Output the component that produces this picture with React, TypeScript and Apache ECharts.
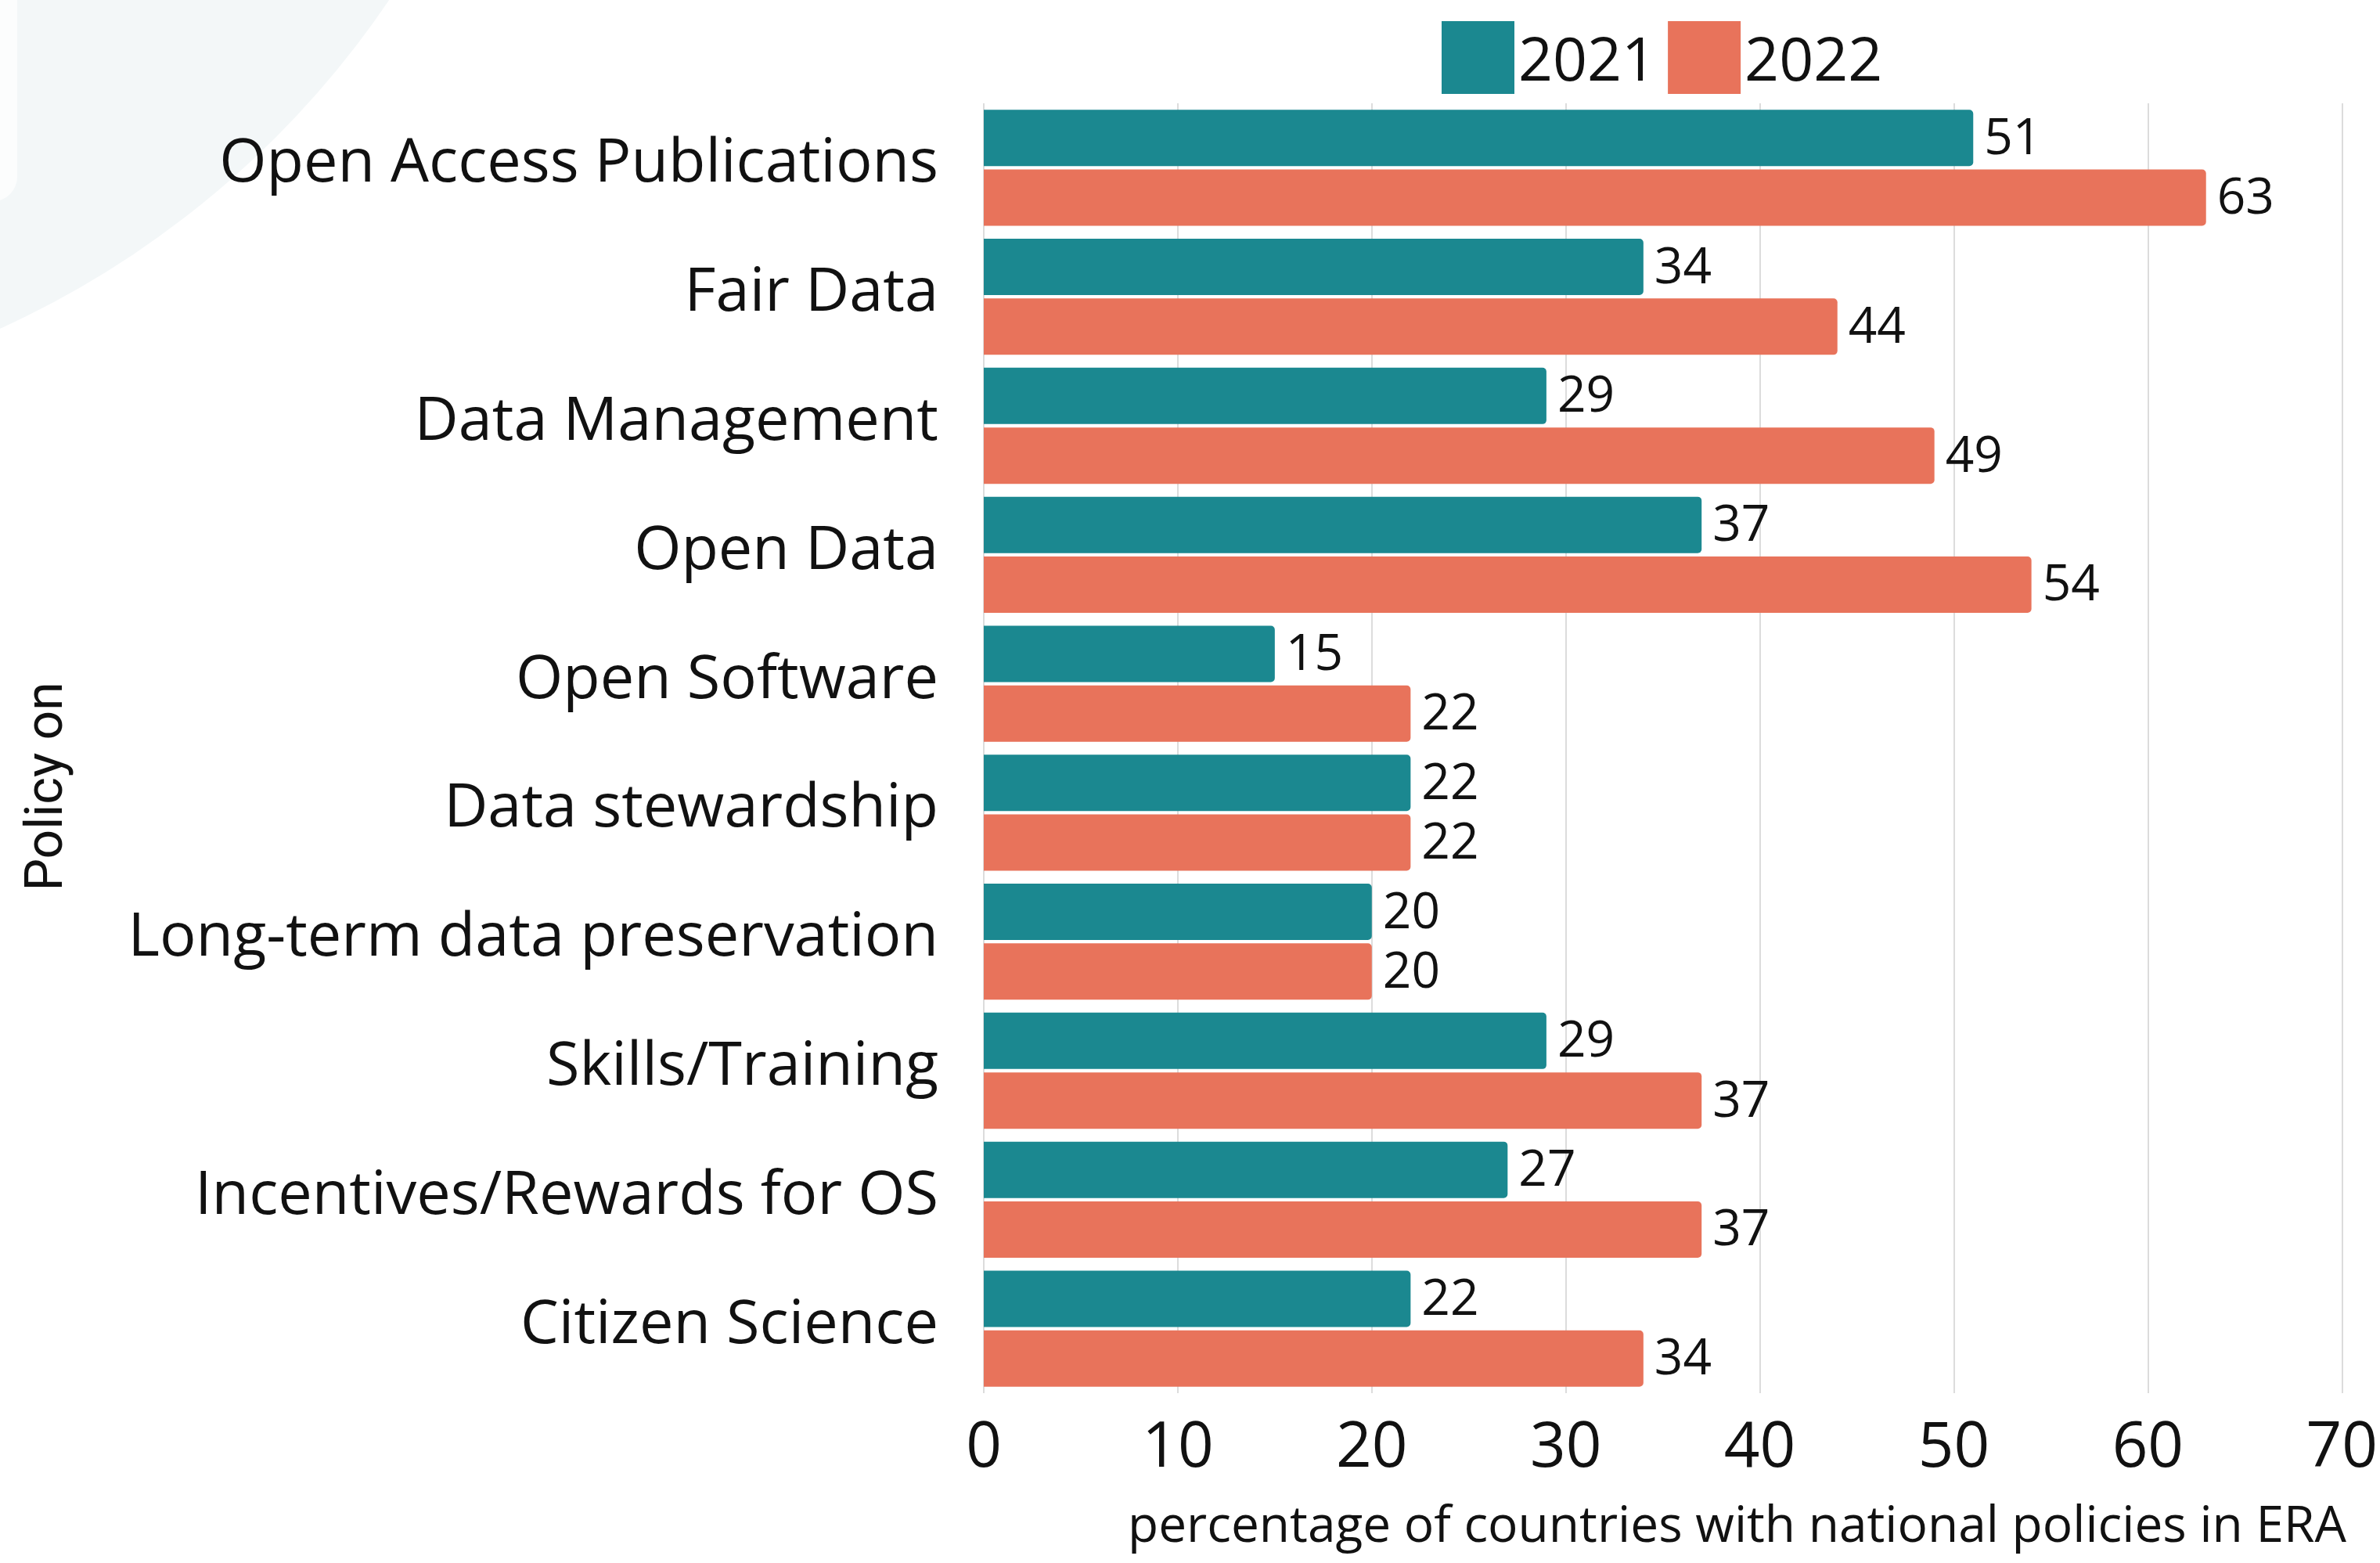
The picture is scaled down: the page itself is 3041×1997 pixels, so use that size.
import React, { useEffect, useRef } from "react";
import * as echarts from "echarts";

const categories = [
  "Open Access Publications",
  "Fair Data",
  "Data Management",
  "Open Data",
  "Open Software",
  "Data stewardship",
  "Long-term data preservation",
  "Skills/Training",
  "Incentives/Rewards for OS",
  "Citizen Science",
];
const values2021 = [51, 34, 29, 37, 15, 22, 20, 29, 27, 22];
const values2022 = [63, 44, 49, 54, 22, 22, 20, 37, 37, 34];
const seriesNames = ["2021", "2022"];
const xTicks = { min: 0, max: 70, interval: 10 };
const xAxisTitle = "percentage of countries with national policies in ERA";
const yAxisTitle = "Policy on";

const TEAL = "#1b8890";
const SALMON = "#e8735b";

export default function App() {
  const ref = useRef<HTMLDivElement>(null);
  useEffect(() => {
    document.body.style.margin = "0";
    const chart = echarts.init(ref.current!, null, { renderer: "svg" });
    const labelStyle = {
      show: true,
      position: "right",
      distance: 14,
      offset: [0, -4],
      fontSize: 64,
      color: "#111",
      fontFamily: "Open Sans",
    };
    chart.setOption({
      animation: false,
      backgroundColor: "#ffffff",
      graphic: [
        {
          type: "circle",
          shape: { cx: -498, cy: -674, r: 1202 },
          style: { fill: "#f3f7f8" },
          z: -10,
          silent: true,
        },
        {
          type: "rect",
          shape: { x: -40, y: -40, width: 62, height: 297, r: 40 },
          style: { fill: "#fcfdfd" },
          z: -9,
          silent: true,
        },
        {
          type: "text",
          x: 2998,
          y: 1945,
          style: {
            text: xAxisTitle,
            fontSize: 64,
            fontFamily: "Open Sans",
            fill: "#111",
            align: "right",
            verticalAlign: "middle",
          },
        },
        {
          type: "text",
          x: 56,
          y: 1005,
          rotation: Math.PI / 2,
          style: {
            text: yAxisTitle,
            fontSize: 66,
            fontFamily: "Roboto",
            fill: "#111",
            align: "center",
            verticalAlign: "middle",
          },
        },
      ],
      legend: {
        data: seriesNames,
        left: 1842,
        top: 27,
        icon: "rect",
        itemWidth: 93,
        itemHeight: 93,
        itemGap: 15,
        padding: 0,
        textStyle: { fontSize: 77, fontFamily: "Open Sans", color: "#111" },
      },
      grid: { left: 1257, right: 39, top: 132, bottom: 217, containLabel: false },
      xAxis: {
        type: "value",
        min: xTicks.min,
        max: xTicks.max,
        interval: xTicks.interval,
        axisLine: { show: false },
        axisTick: { show: false },
        splitLine: { show: true, lineStyle: { color: "#dcdcdc", width: 2 } },
        axisLabel: { fontSize: 80, fontFamily: "Open Sans", color: "#111", margin: 22 },
      },
      yAxis: {
        type: "category",
        data: categories,
        inverse: true,
        axisLine: { show: false },
        axisTick: { show: false },
        axisLabel: {
          fontSize: 77.5,
          fontFamily: "Open Sans",
          color: "#111",
          margin: 58,
          verticalAlign: "bottom",
          lineHeight: 24,
        },
      },
      series: [
        {
          name: seriesNames[0],
          type: "bar",
          data: values2021,
          barWidth: 72,
          barGap: "6%",
          itemStyle: { color: TEAL, borderRadius: [0, 5, 5, 0] },
          label: labelStyle,
        },
        {
          name: seriesNames[1],
          type: "bar",
          data: values2022,
          barWidth: 72,
          barGap: "6%",
          itemStyle: { color: SALMON, borderRadius: [0, 5, 5, 0] },
          label: labelStyle,
        },
      ],
    });
    return () => chart.dispose();
  }, []);
  return (
    <div
      ref={ref}
      style={{ position: "absolute", left: 0, top: 0, width: 3041, height: 1997 }}
    />
  );
}
